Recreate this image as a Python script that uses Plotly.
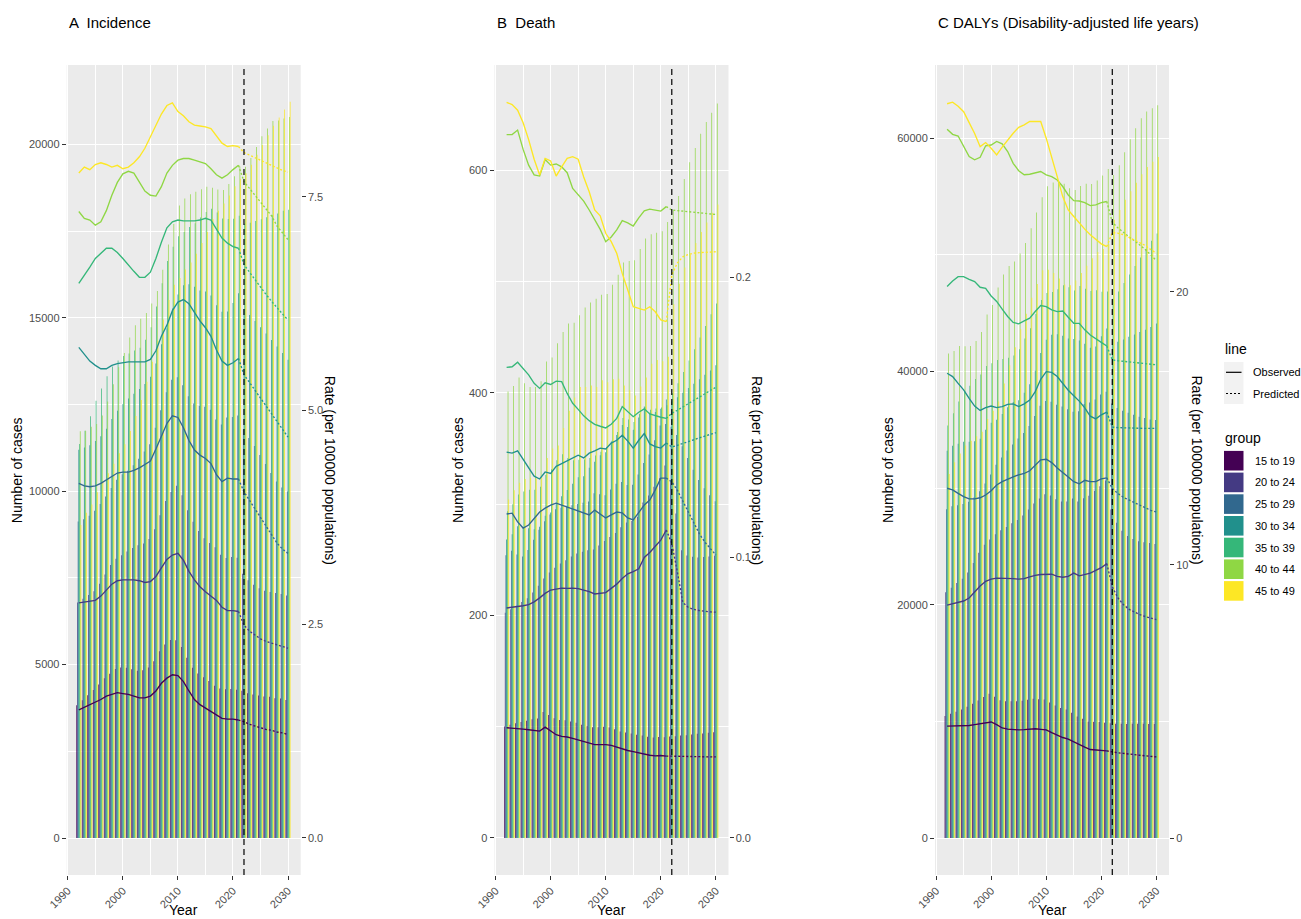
import plotly.graph_objects as go

years = [1992, 1993, 1994, 1995, 1996, 1997, 1998, 1999, 2000, 2001, 2002, 2003, 2004,
         2005, 2006, 2007, 2008, 2009, 2010, 2011, 2012, 2013, 2014, 2015, 2016, 2017,
         2018, 2019, 2020, 2021, 2022, 2023, 2024, 2025, 2026, 2027, 2028, 2029, 2030]
groups = ["15 to 19", "20 to 24", "25 to 29", "30 to 34", "35 to 39", "40 to 44", "45 to 49"]
colors = ["#440154", "#443A83", "#31688E", "#21908C", "#35B779", "#8FD744", "#FDE725"]
line_types = ["Observed", "Predicted"]
last_observed = 2021
forecast_start = 2022

# ---------------- A Incidence: counts ----------------
inc_n_15_19 = [3825,3970,4118,4269,4423,4607,4738,4871,4918,4906,4864,4822,4838,4914,5100,5385,5582,5711,5700,5508,5194,4909,4742,4636,4529,4390,4312,4288,4295,4278,4243,4176,4140,4109,4077,4070,4030,4022,3981]
inc_n_20_24 = [6793,6900,7008,7117,7330,7598,7871,8052,8154,8260,8365,8443,8492,8625,8905,9306,9715,9980,10157,9880,9454,9120,8849,8640,8504,8382,8168,8073,8100,8083,7619,7429,7300,7200,7130,7091,7063,7034,6993]
inc_n_25_29 = [9130,9188,9289,9435,9628,9847,10089,10333,10486,10593,10750,10933,11144,11356,11830,12338,12853,13215,13284,13056,12741,12530,12454,12432,12352,12070,11926,12125,12138,12180,11786,11534,11300,11044,10786,10526,10281,10106,9990]
inc_n_30_34 = [11193,11263,11327,11447,11584,11804,12083,12321,12510,12672,12811,12950,13090,13300,13680,14235,14700,15271,15675,15939,15969,15898,15791,15761,15644,15360,15178,15180,15429,15708,15257,15084,14908,14729,14548,14363,14176,13987,13789]
inc_n_35_39 = [11358,11745,12158,12611,12962,13317,13593,13769,13899,13970,14056,14137,14366,14730,15323,15996,16636,17052,17352,17472,17617,17725,17894,18053,18147,18039,17866,17852,17854,17940,17714,17742,17794,17839,17903,17961,18011,18084,18119]
inc_n_40_44 = [11728,11745,11857,11938,12185,12588,13085,13576,13986,14430,14782,14976,15140,15416,15771,16383,17116,17708,18239,18444,18563,18636,18707,18778,18753,18702,18682,18857,19081,19360,19354,19608,19928,20237,20461,20675,20692,20744,20790]
inc_n_45_49 = [9025,9381,9619,9968,10270,10520,10794,11097,11354,11736,12166,12632,13154,13735,14345,14950,15512,15953,16150,16393,16592,16847,17160,17472,17845,18084,18293,18526,18792,19012,19168,19416,19701,19984,20264,20541,20776,21009,21228]
# ---------------- A Incidence: rates ----------------
inc_r_15_19 = [1.50,1.53,1.56,1.59,1.62,1.66,1.68,1.70,1.69,1.68,1.66,1.64,1.64,1.66,1.72,1.81,1.87,1.91,1.90,1.83,1.72,1.62,1.56,1.52,1.48,1.43,1.40,1.39,1.39,1.38,1.36,1.33,1.31,1.29,1.27,1.26,1.24,1.23,1.21]
inc_r_20_24 = [2.75,2.76,2.77,2.78,2.83,2.90,2.97,3.01,3.02,3.02,3.02,3.01,2.99,3.00,3.06,3.16,3.26,3.31,3.33,3.25,3.12,3.02,2.94,2.88,2.83,2.78,2.70,2.66,2.66,2.65,2.49,2.42,2.37,2.33,2.30,2.28,2.26,2.24,2.22]
inc_r_25_29 = [4.15,4.12,4.11,4.12,4.15,4.19,4.23,4.27,4.28,4.28,4.30,4.33,4.37,4.41,4.55,4.70,4.85,4.94,4.92,4.80,4.65,4.54,4.48,4.44,4.38,4.25,4.17,4.21,4.20,4.20,4.05,3.95,3.85,3.75,3.65,3.55,3.45,3.38,3.33]
inc_r_30_34 = [5.74,5.66,5.58,5.53,5.49,5.49,5.53,5.55,5.56,5.57,5.57,5.57,5.57,5.60,5.70,5.87,6.00,6.17,6.27,6.30,6.25,6.15,6.05,5.97,5.87,5.71,5.58,5.53,5.56,5.61,5.42,5.33,5.24,5.15,5.06,4.97,4.88,4.79,4.69]
inc_r_35_39 = [6.49,6.58,6.68,6.78,6.84,6.90,6.90,6.85,6.78,6.70,6.63,6.56,6.56,6.62,6.78,6.97,7.14,7.21,7.23,7.22,7.22,7.22,7.23,7.25,7.23,7.13,7.02,6.96,6.92,6.90,6.71,6.62,6.53,6.44,6.36,6.28,6.20,6.13,6.06]
inc_r_40_44 = [7.33,7.25,7.23,7.17,7.21,7.34,7.52,7.67,7.77,7.80,7.78,7.68,7.57,7.52,7.51,7.62,7.78,7.87,7.93,7.95,7.95,7.93,7.91,7.89,7.83,7.76,7.72,7.76,7.82,7.87,7.68,7.60,7.52,7.44,7.36,7.28,7.16,7.08,7.00]
inc_r_45_49 = [7.78,7.85,7.82,7.88,7.90,7.88,7.85,7.87,7.83,7.85,7.90,7.97,8.07,8.20,8.34,8.47,8.57,8.60,8.50,8.45,8.38,8.34,8.33,8.32,8.30,8.22,8.13,8.09,8.10,8.09,8.02,7.99,7.96,7.93,7.90,7.87,7.84,7.81,7.79]

# ---------------- B Death: counts ----------------
dth_n_15_19 = [100.2,101.7,103.0,104.2,105.4,106.6,107.4,113.2,110.6,107.5,106.1,105.8,104.7,103.6,101.7,100.6,99.4,99.6,99.9,99.3,97.8,95.7,94.8,93.9,92.7,92.1,90.9,90.4,90.8,90.5,91.1,91.4,92.0,92.4,93.1,93.7,93.9,94.5,95.1]
dth_n_20_24 = [202.5,205.5,208.7,212.0,215.5,220.6,226.8,233.3,238.7,242.9,246.8,249.6,253.0,255.6,257.2,258.6,259.3,262.9,266.9,270.6,274.2,279.4,283.5,285.0,288.5,301.5,307.9,315.6,323.4,334.9,321.3,291.7,258.7,254.0,252.7,252.2,252.5,253.1,253.6]
dth_n_25_29 = [254.1,258.2,254.7,253.0,258.9,268.1,277.1,284.6,290.8,295.5,296.8,298.0,299.1,300.2,301.3,302.4,309.8,309.0,308.1,313.3,318.4,319.9,317.2,317.5,326.8,337.1,344.6,357.4,370.8,372.1,369.6,362.1,352.2,341.6,331.0,321.7,314.4,308.0,302.7]
dth_n_30_34 = [268.3,273.0,280.1,279.5,278.5,277.4,279.7,289.7,292.5,301.4,307.1,312.7,318.4,324.2,325.2,332.7,338.1,344.0,346.8,356.2,362.3,371.2,369.3,367.0,377.9,387.9,382.2,382.9,385.7,394.2,392.4,396.2,400.3,404.4,408.3,412.4,416.3,420.2,424.8]
dth_n_35_39 = [293.7,299.9,308.7,311.4,312.9,312.9,315.8,326.2,331.5,339.6,344.9,341.6,339.5,340.0,340.1,341.5,343.7,347.2,350.9,357.0,365.0,377.6,376.2,374.0,381.0,387.1,384.8,386.0,387.0,389.0,399.7,408.7,418.8,429.1,439.4,449.9,460.2,470.8,480.5]
dth_n_40_44 = [401.3,406.3,413.9,408.8,405.4,405.4,410.6,428.2,431.8,444.6,454.7,462.5,463.2,469.9,476.9,481.4,484.7,488.3,489.0,497.2,506.2,517.2,518.6,519.3,529.5,538.9,542.6,544.1,545.3,553.7,564.2,577.1,592.3,607.4,620.2,633.0,643.6,651.9,660.2]
dth_n_45_49 = [304.3,312.5,319.2,322.6,323.7,323.1,325.1,341.6,350.0,352.8,368.5,384.0,395.9,405.4,405.4,406.7,405.3,411.4,409.6,412.4,412.8,406.6,402.5,397.7,405.9,414.0,426.2,429.6,428.5,432.6,479.7,498.2,512.8,524.2,534.8,544.7,553.3,561.9,569.5]
# ---------------- B Death: rates ----------------
dth_r_15_19 = [0.0393,0.0392,0.0390,0.0388,0.0386,0.0384,0.0381,0.0395,0.0380,0.0368,0.0362,0.0360,0.0355,0.0350,0.0343,0.0338,0.0333,0.0333,0.0333,0.0330,0.0324,0.0316,0.0312,0.0308,0.0303,0.0300,0.0295,0.0293,0.0294,0.0292,0.0292,0.0291,0.0291,0.0290,0.0290,0.0290,0.0289,0.0289,0.0289]
dth_r_20_24 = [0.0820,0.0822,0.0825,0.0828,0.0832,0.0842,0.0856,0.0872,0.0884,0.0888,0.0891,0.0890,0.0891,0.0889,0.0884,0.0878,0.0870,0.0872,0.0875,0.0890,0.0905,0.0925,0.0942,0.0950,0.0960,0.1000,0.1018,0.1040,0.1062,0.1098,0.1050,0.0950,0.0840,0.0822,0.0815,0.0811,0.0808,0.0806,0.0805]
dth_r_25_29 = [0.1155,0.1158,0.1127,0.1105,0.1116,0.1141,0.1162,0.1176,0.1187,0.1194,0.1187,0.1180,0.1173,0.1166,0.1159,0.1152,0.1169,0.1155,0.1141,0.1152,0.1162,0.1159,0.1141,0.1134,0.1159,0.1187,0.1205,0.1241,0.1283,0.1283,0.1270,0.1240,0.1200,0.1160,0.1120,0.1085,0.1055,0.1030,0.1009]
dth_r_30_34 = [0.1376,0.1372,0.1380,0.1350,0.1320,0.1290,0.1280,0.1305,0.1300,0.1325,0.1335,0.1345,0.1355,0.1365,0.1355,0.1372,0.1380,0.1390,0.1387,0.1408,0.1418,0.1436,0.1415,0.1390,0.1418,0.1442,0.1405,0.1395,0.1390,0.1408,0.1394,0.1400,0.1407,0.1414,0.1420,0.1427,0.1433,0.1439,0.1445]
dth_r_35_39 = [0.1678,0.1680,0.1696,0.1674,0.1651,0.1621,0.1603,0.1623,0.1617,0.1629,0.1627,0.1585,0.1550,0.1528,0.1505,0.1488,0.1475,0.1468,0.1462,0.1475,0.1496,0.1538,0.1520,0.1502,0.1518,0.1530,0.1512,0.1505,0.1500,0.1496,0.1514,0.1525,0.1537,0.1549,0.1561,0.1573,0.1584,0.1596,0.1607]
dth_r_40_44 = [0.2508,0.2508,0.2524,0.2455,0.2399,0.2364,0.2360,0.2419,0.2399,0.2403,0.2393,0.2372,0.2316,0.2292,0.2271,0.2239,0.2203,0.2170,0.2126,0.2143,0.2168,0.2201,0.2193,0.2182,0.2211,0.2236,0.2242,0.2239,0.2235,0.2251,0.2239,0.2237,0.2235,0.2233,0.2231,0.2229,0.2227,0.2225,0.2223]
dth_r_45_49 = [0.2623,0.2615,0.2595,0.2550,0.2490,0.2420,0.2364,0.2423,0.2414,0.2360,0.2393,0.2423,0.2429,0.2420,0.2357,0.2304,0.2239,0.2218,0.2156,0.2126,0.2085,0.2013,0.1954,0.1894,0.1888,0.1882,0.1894,0.1876,0.1847,0.1841,0.2007,0.2050,0.2072,0.2080,0.2085,0.2087,0.2088,0.2089,0.2090]

# ---------------- C DALYs: counts ----------------
daly_n_15_19 = [10455,10640,10824,11009,11248,11516,11788,12090,12368,12118,11808,11731,11712,11722,11771,11841,11940,11900,11880,11619,11355,11150,11005,10736,10404,10223,9979,9965,9950,9889,9828,9797,9796,9778,9791,9787,9783,9777,9771]
daly_n_20_24 = [21069,21450,21859,22221,22766,23580,24460,25145,25596,26037,26370,26648,26980,27255,27645,28154,28668,29095,29463,29366,29027,28841,28836,29100,28848,29125,29343,29743,30146,30653,28152,27016,26334,25894,25637,25440,25344,25277,25200]
daly_n_25_29 = [28182,28433,28521,28625,28814,29187,29717,30395,31164,32002,32625,33204,33737,34248,34710,35306,36173,37049,37449,37400,37127,36984,36752,36540,36575,37204,37323,37584,38004,38251,37248,36850,36629,36459,36287,36114,35998,35880,35820]
daly_n_30_34 = [33189,33631,33800,33969,33971,34013,34217,34987,35595,35854,36340,36921,37365,37525,38160,38897,40058,41580,42700,43137,43180,43040,42804,42768,42640,42368,42024,42136,43013,43680,42366,42535,42732,42957,43154,43379,43575,43800,44100]
daly_n_35_39 = [35350,36414,37419,38242,38772,39333,39735,40461,40693,40970,41064,41161,41347,41897,42804,43697,44922,46118,46704,46803,47043,47382,47198,46937,47314,47083,46879,46940,46827,46852,46226,46846,47579,48309,49037,49764,50460,51183,51817]
daly_n_40_44 = [41536,41747,42164,42158,42182,42601,43378,44870,45684,47194,48298,49023,49420,50102,51009,52267,53614,54923,55867,56190,56274,56071,55696,55549,55875,56081,56047,56352,56779,57343,56826,57663,58777,59894,60826,61685,62280,62556,62816]
daly_n_45_49 = [31192,32205,32964,33649,34060,34443,34815,35913,36627,37405,38962,40528,42070,43600,44926,46314,47494,48675,48697,48422,47956,47450,47380,47796,48418,49060,49703,50220,50483,50901,52986,53825,54698,55440,56174,56898,57505,57970,58370]
# ---------------- C DALYs: rates ----------------
daly_r_15_19 = [4.10,4.10,4.10,4.10,4.12,4.15,4.18,4.22,4.25,4.15,4.03,3.99,3.97,3.96,3.97,3.98,4.00,3.98,3.96,3.86,3.76,3.68,3.62,3.52,3.40,3.33,3.24,3.23,3.22,3.19,3.15,3.12,3.10,3.07,3.05,3.03,3.01,2.99,2.97]
daly_r_20_24 = [8.53,8.58,8.64,8.68,8.79,9.00,9.23,9.40,9.48,9.52,9.52,9.50,9.50,9.48,9.50,9.56,9.62,9.65,9.66,9.66,9.58,9.55,9.58,9.70,9.60,9.66,9.70,9.80,9.90,10.05,9.20,8.80,8.55,8.38,8.27,8.18,8.11,8.05,8.00]
daly_r_25_29 = [12.81,12.75,12.62,12.50,12.42,12.42,12.46,12.56,12.72,12.93,13.05,13.15,13.23,13.30,13.35,13.45,13.65,13.85,13.87,13.75,13.55,13.40,13.22,13.05,12.97,13.10,13.05,13.05,13.15,13.19,12.80,12.62,12.48,12.38,12.28,12.18,12.08,12.00,11.94]
daly_r_30_34 = [17.02,16.90,16.65,16.41,16.10,15.82,15.66,15.76,15.82,15.76,15.80,15.88,15.90,15.80,15.90,16.04,16.35,16.80,17.08,17.05,16.90,16.65,16.40,16.20,16.00,15.75,15.45,15.35,15.50,15.60,15.05,15.03,15.02,15.02,15.01,15.01,15.00,15.00,15.00]
daly_r_35_39 = [20.20,20.40,20.56,20.56,20.46,20.38,20.17,20.13,19.85,19.65,19.37,19.10,18.88,18.83,18.94,19.04,19.28,19.50,19.46,19.34,19.28,19.30,19.07,18.85,18.85,18.61,18.42,18.30,18.15,18.02,17.51,17.48,17.46,17.44,17.42,17.40,17.37,17.35,17.33]
daly_r_40_44 = [25.96,25.77,25.71,25.32,24.96,24.84,24.93,25.35,25.38,25.51,25.42,25.14,24.71,24.44,24.29,24.31,24.37,24.41,24.29,24.22,24.10,23.86,23.55,23.34,23.33,23.27,23.16,23.19,23.27,23.31,22.55,22.35,22.18,22.02,21.88,21.72,21.55,21.35,21.15]
daly_r_45_49 = [26.89,26.95,26.80,26.60,26.20,25.80,25.32,25.47,25.26,25.02,25.30,25.57,25.81,26.03,26.12,26.24,26.24,26.24,25.63,24.96,24.22,23.49,23.00,22.76,22.52,22.30,22.09,21.93,21.76,21.66,22.17,22.15,22.10,22.00,21.90,21.80,21.70,21.55,21.42]

# ---------------- assemble ----------------
W, H = 1301, 919
FONT = "Liberation Sans, Arial, Helvetica, sans-serif"
TICK_FONT = dict(family=FONT, size=11, color="#4D4D4D")


def rgba(hex_color, alpha):
    h = hex_color.lstrip("#")
    return "rgba(%d,%d,%d,%s)" % (int(h[0:2], 16), int(h[2:4], 16), int(h[4:6], 16), alpha)


panels = [
    dict(counts=[inc_n_15_19, inc_n_20_24, inc_n_25_29, inc_n_30_34, inc_n_35_39, inc_n_40_44, inc_n_45_49],
         rates=[inc_r_15_19, inc_r_20_24, inc_r_25_29, inc_r_30_34, inc_r_35_39, inc_r_40_44, inc_r_45_49],
         x="x", y="y", y2="y2", px=(66.7, 300.7), lt=49.5, rt=29.5,
         yrange=[-1067, 22290], ydtick=5000, yminor=2500, y2range=[-0.433, 9.044], y2dtick=2.5, y2fmt=".1f",
         title="A  Incidence"),
    dict(counts=[dth_n_15_19, dth_n_20_24, dth_n_25_29, dth_n_30_34, dth_n_35_39, dth_n_40_44, dth_n_45_49],
         rates=[dth_r_15_19, dth_r_20_24, dth_r_25_29, dth_r_30_34, dth_r_35_39, dth_r_40_44, dth_r_45_49],
         x="x2", y="y3", y2="y4", px=(494.5, 728.5), lt=36.5, rt=28.5,
         yrange=[-33.3, 694.8], ydtick=200, yminor=100, y2range=[-0.0132, 0.2756], y2dtick=0.1, y2fmt=".1f",
         title="B  Death"),
    dict(counts=[daly_n_15_19, daly_n_20_24, daly_n_25_29, daly_n_30_34, daly_n_35_39, daly_n_40_44, daly_n_45_49],
         rates=[daly_r_15_19, daly_r_20_24, daly_r_25_29, daly_r_30_34, daly_r_35_39, daly_r_40_44, daly_r_45_49],
         x="x3", y="y5", y2="y6", px=(935.0, 1169.0), lt=47.0, rt=27.5,
         yrange=[-3171, 66257], ydtick=20000, yminor=10000, y2range=[-1.355, 28.31], y2dtick=10, y2fmt="d",
         title="C DALYs (Disability-adjusted life years)"),
]

for p in panels:
    for arr in p["counts"] + p["rates"]:
        assert len(arr) == len(years), len(arr)

fig = go.Figure()
i_obs = years.index(last_observed)
DOT = "2px,2px"
LW = 1.35

for pi, p in enumerate(panels):
    for gi, g in enumerate(groups):
        fig.add_trace(go.Bar(
            x=years, y=p["counts"][gi], name=g,
            marker=dict(color=rgba(colors[gi], 0.999), line=dict(width=0)),
            xaxis=p["x"], yaxis=p["y"], showlegend=False, hoverinfo="skip"))
    for gi, g in enumerate(groups):
        fig.add_trace(go.Scatter(
            x=years[:i_obs + 1], y=p["rates"][gi][:i_obs + 1], mode="lines", name=g + " " + line_types[0],
            line=dict(color=colors[gi], width=LW), xaxis=p["x"], yaxis=p["y2"],
            showlegend=False, hoverinfo="skip"))
        fig.add_trace(go.Scatter(
            x=years[i_obs:], y=p["rates"][gi][i_obs:], mode="lines", name=g + " " + line_types[1],
            line=dict(color=colors[gi], width=LW, dash=DOT), xaxis=p["x"], yaxis=p["y2"],
            showlegend=False, hoverinfo="skip"))

ydom = [(H - 875) / H, (H - 65) / H]
layout = dict(
    width=W, height=H, margin=dict(l=0, r=0, t=0, b=0, autoexpand=False),
    paper_bgcolor="white", plot_bgcolor="#EBEBEB",
    font=dict(family=FONT, size=12, color="black"),
    barmode="group", bargap=0.1, bargroupgap=0, showlegend=False,
    shapes=[], annotations=[],
)

for pi, p in enumerate(panels):
    xk = "xaxis" if p["x"] == "x" else "xaxis" + p["x"][1:]
    yk = "yaxis" if p["y"] == "y" else "yaxis" + p["y"][1:]
    y2k = "yaxis" + p["y2"][1:]
    dom = [p["px"][0] / W, p["px"][1] / W]
    layout[xk] = dict(
        domain=dom, anchor=p["y"], range=[1989.8, 2032.3],
        tick0=1990, dtick=10, tickangle=-45, ticks="outside", ticklen=4,
        tickcolor="#333333", tickwidth=1, tickfont=TICK_FONT,
        showgrid=True, gridcolor="white", gridwidth=1.1,
        minor=dict(dtick=5, tick0=1990, showgrid=True, gridcolor="white", gridwidth=0.55, ticks=""),
        zeroline=False, showline=False, fixedrange=True, automargin=False)
    layout[yk] = dict(
        domain=ydom, anchor=p["x"], range=p["yrange"],
        tick0=0, dtick=p["ydtick"], tickformat="d", ticks="outside", ticklen=4,
        tickcolor="#333333", tickwidth=1, tickfont=TICK_FONT,
        showgrid=True, gridcolor="white", gridwidth=1.1,
        minor=dict(dtick=p["yminor"], tick0=0, showgrid=True, gridcolor="white", gridwidth=0.55, ticks=""),
        zeroline=False, showline=False, fixedrange=True, automargin=False)
    layout[y2k] = dict(
        anchor=p["x"], overlaying=p["y"], side="right", range=p["y2range"],
        tick0=0, dtick=p["y2dtick"], tickformat=p["y2fmt"], ticks="outside", ticklen=4,
        tickcolor="#333333", tickwidth=1, tickfont=TICK_FONT,
        showgrid=False, zeroline=False, showline=False, fixedrange=True, automargin=False)
    layout["shapes"].append(dict(
        type="line", xref=p["x"], yref=p["y"] + " domain", x0=forecast_start, x1=forecast_start,
        y0=0, y1=1, line=dict(color="black", width=1.2, dash="6px,4px"), layer="above"))
    cx = (p["px"][0] + p["px"][1]) / 2 / W
    layout["annotations"] += [
        dict(text=p["title"], xref="paper", yref="paper", x=(p["px"][0] + 0.5) / W, y=1 - 22 / H,
             xanchor="left", yanchor="middle", showarrow=False, font=dict(size=15, color="black")),
        dict(text="Year", xref="paper", yref="paper", x=cx, y=1 - 910 / H,
             xanchor="center", yanchor="middle", showarrow=False, font=dict(size=14, color="black")),
        dict(text="Number of cases", xref="paper", yref="paper", x=(p["px"][0] - p["lt"]) / W, y=1 - 470 / H,
             xanchor="center", yanchor="middle", textangle=-90, showarrow=False,
             font=dict(size=14, color="black")),
        dict(text="Rate (per 100000 populations)", xref="paper", yref="paper", x=(p["px"][1] + p["rt"]) / W,
             y=1 - 470 / H, xanchor="center", yanchor="middle", textangle=90, showarrow=False,
             font=dict(size=14, color="black")),
    ]

# ---------------- legends (drawn as keys + labels, ggplot style) ----------------
def px2x(v):
    return v / W

def px2y(v):
    return 1 - v / H

KEY_L, KEY_R, TXT_X = 1224.0, 1243.5, 1251.0
layout["annotations"].append(dict(text="line", xref="paper", yref="paper", x=px2x(1223), y=px2y(349),
                                  xanchor="left", yanchor="middle", showarrow=False,
                                  font=dict(size=14, color="black")))
line_centers = [372.3, 393.5]
layout["shapes"].append(dict(type="rect", xref="paper", yref="paper", x0=px2x(KEY_L), x1=px2x(KEY_R),
                             y0=px2y(362), y1=px2y(404), fillcolor="#F2F2F2", line=dict(width=0),
                             layer="above"))
for li, (lt, cy) in enumerate(zip(line_types, line_centers)):
    layout["shapes"].append(dict(type="line", xref="paper", yref="paper", x0=px2x(KEY_L + 2), x1=px2x(KEY_R - 2),
                                 y0=px2y(cy), y1=px2y(cy),
                                 line=dict(color="black", width=1.2, dash=("solid" if li == 0 else DOT)),
                                 layer="above"))
    layout["annotations"].append(dict(text=lt, xref="paper", yref="paper", x=px2x(TXT_X), y=px2y(cy),
                                      xanchor="left", yanchor="middle", showarrow=False,
                                      font=dict(size=11, color="black")))

layout["annotations"].append(dict(text="group", xref="paper", yref="paper", x=px2x(1223), y=px2y(438),
                                  xanchor="left", yanchor="middle", showarrow=False,
                                  font=dict(size=14, color="black")))
for gi, g in enumerate(groups):
    cy = 460.7 + gi * 21.7
    layout["shapes"].append(dict(type="rect", xref="paper", yref="paper", x0=px2x(KEY_L), x1=px2x(KEY_R),
                                 y0=px2y(cy + 9.8), y1=px2y(cy - 9.8), fillcolor=colors[gi],
                                 line=dict(width=0), layer="above"))
    layout["annotations"].append(dict(text=g, xref="paper", yref="paper", x=px2x(TXT_X + 1.5), y=px2y(cy),
                                      xanchor="left", yanchor="middle", showarrow=False,
                                      font=dict(size=11, color="black")))

fig.update_layout(**layout)
fig.write_html("out.html", include_plotlyjs=True, config={"displayModeBar": False},
               post_script="document.body.style.margin='0px';")
